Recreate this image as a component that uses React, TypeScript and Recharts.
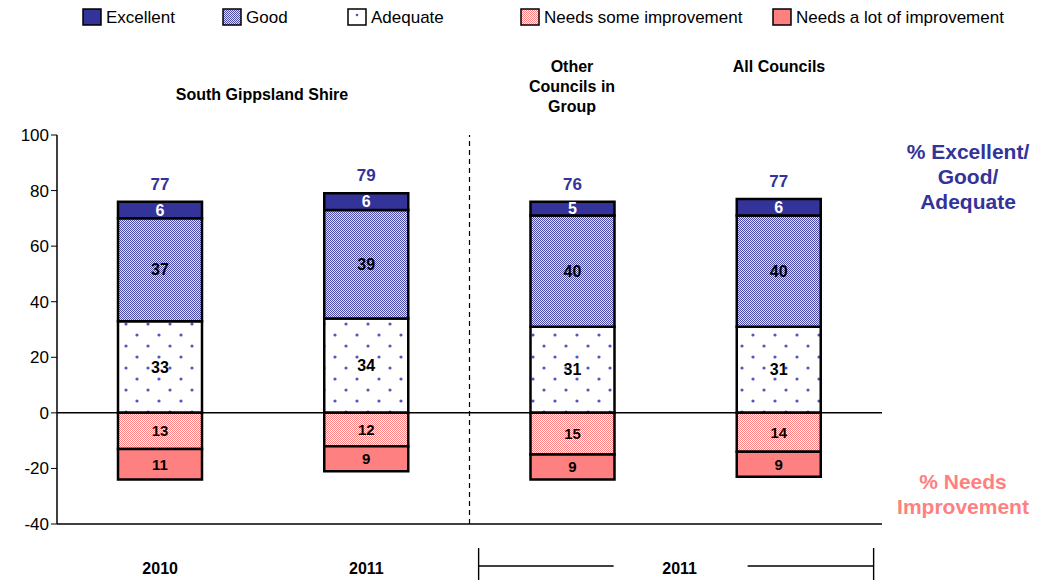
import React from 'react';
import {
  BarChart,
  Bar,
  XAxis,
  YAxis,
  LabelList,
  ReferenceLine,
} from 'recharts';

const categories = ['2010', '2011 ', 'Other Councils in Group', 'All Councils'];
const excellent = [6, 6, 5, 6];
const good = [37, 39, 40, 40];
const adequate = [33, 34, 31, 31];
const needsSome = [13, 12, 15, 14];
const needsLot = [11, 9, 9, 9];
const totals = [77, 79, 76, 77];
const yTicks = [-40, -20, 0, 20, 40, 60, 80, 100];
const bottomLabels = ['2010', '2011', '2011', ''];

const data = categories.map((c, i) => ({
  cat: c,
  excellent: excellent[i],
  good: good[i],
  adequate: adequate[i],
  needsSome: -needsSome[i],
  needsLot: -needsLot[i],
  total: totals[i],
}));

const FONT = '"Liberation Sans", Arial, sans-serif';
const BLUE = '#333399';
const PINK = '#ff8080';

function Patterns({ prefix }: { prefix: string }) {
  return (
    <defs>
      <pattern id={`${prefix}good`} width="2" height="2" patternUnits="userSpaceOnUse">
        <rect width="2" height="2" fill="#e2e2f8" />
        <rect width="1" height="1" fill="#4a4aaa" />
        <rect x="1" y="1" width="1" height="1" fill="#4a4aaa" />
      </pattern>
      <pattern id={`${prefix}adeq`} width="22" height="22" patternUnits="userSpaceOnUse">
        <rect width="22" height="22" fill="#fff" />
        <circle cx="5" cy="5" r="1.6" fill="#5555bb" />
        <circle cx="16" cy="16" r="1.6" fill="#5555bb" />
      </pattern>
      <pattern id={`${prefix}some`} width="2" height="2" patternUnits="userSpaceOnUse">
        <rect width="2" height="2" fill="#fff" />
        <rect width="1" height="1" fill={PINK} />
        <rect x="1" y="1" width="1" height="1" fill={PINK} />
      </pattern>
    </defs>
  );
}

const legendItems = [
  { name: 'Excellent', fill: BLUE, x: 83 },
  { name: 'Good', fill: 'url(#lg-good)', x: 223 },
  { name: 'Adequate', fill: '#fff', x: 348, dot: true },
  { name: 'Needs some improvement', fill: 'url(#lg-some)', x: 521 },
  { name: 'Needs a lot of improvement', fill: PINK, x: 773 },
];

function BottomTick(props: any) {
  const { x, y, index } = props;
  const label = bottomLabels[index];
  if (index === 2) {
    return (
      <g>
        <line x1={x - 94} x2={x + 41} y1={y + 34} y2={y + 34} stroke="#000" strokeWidth={1.4} />
        <line x1={x + 175} x2={x + 301} y1={y + 34} y2={y + 34} stroke="#000" strokeWidth={1.4} />
        <line x1={x - 94} x2={x - 94} y1={y + 16} y2={y + 54} stroke="#000" strokeWidth={1.4} />
        <line x1={x + 301} x2={x + 301} y1={y + 16} y2={y + 54} stroke="#000" strokeWidth={1.4} />
        <text x={x + 107} y={y + 42} textAnchor="middle" fontFamily={FONT} fontWeight="bold" fontSize={16} fill="#000">
          {label}
        </text>
      </g>
    );
  }
  if (!label) return null;
  return (
    <text x={x} y={y + 42} textAnchor="middle" fontFamily={FONT} fontWeight="bold" fontSize={16} fill="#000">
      {label}
    </text>
  );
}

const absLabel = (v: any) => Math.abs(Number(v));

const labelStyle = { fontWeight: 'bold', fontSize: 16, fontFamily: FONT } as const;

export default function App() {
  return (
    <div style={{ position: 'absolute', left: 0, top: 0, width: 1037, height: 580, fontFamily: FONT }}>
      <BarChart
        width={1037}
        height={580}
        data={data}
        stackOffset="sign"
        barSize={84}
        margin={{ top: 135, right: 155, bottom: 0, left: 0 }}
      >
        <Patterns prefix="c-" />
        <XAxis
          dataKey="cat"
          height={56}
          axisLine={{ stroke: '#000', strokeWidth: 1.5 }}
          tickLine={false}
          tick={<BottomTick />}
          interval={0}
        />
        <XAxis xAxisId="top" dataKey="cat" orientation="top" height={0} tick={false} tickLine={false} axisLine={{ stroke: '#000', strokeWidth: 1.5 }} />
        <YAxis
          domain={[-40, 100]}
          ticks={yTicks}
          width={57}
          axisLine={{ stroke: '#000', strokeWidth: 1.5 }}
          tickLine={{ stroke: '#000' }}
          tickSize={6}
          tick={{ fontSize: 17, fill: '#000', fontFamily: FONT }}
        />
        <YAxis yAxisId="right" orientation="right" width={0} domain={[-40, 100]} tick={false} tickLine={false} axisLine={{ stroke: '#000', strokeWidth: 1.5 }} />
        <ReferenceLine
          x="Other Councils in Group"
          position="start"
          stroke="#000"
          strokeDasharray="5 4"
          strokeWidth={1.2}
        />
        <Bar dataKey="adequate" stackId="s" fill="url(#c-adeq)" stroke="#000" strokeWidth={2.5} isAnimationActive={false}>
          <LabelList dataKey="adequate" position="center" fill="#000" {...labelStyle} />
        </Bar>
        <Bar dataKey="good" stackId="s" fill="url(#c-good)" stroke="#000" strokeWidth={2.5} isAnimationActive={false}>
          <LabelList dataKey="good" position="center" fill="#000" {...labelStyle} />
        </Bar>
        <Bar dataKey="excellent" stackId="s" fill={BLUE} stroke="#000" strokeWidth={2.5} isAnimationActive={false}>
          <LabelList dataKey="excellent" position="center" fill="#fff" {...labelStyle} />
          <LabelList dataKey="total" position="top" offset={12} fill={BLUE} fontWeight="bold" fontSize={17} fontFamily={FONT} />
        </Bar>
        <Bar dataKey="needsSome" stackId="s" fill="url(#c-some)" stroke="#000" strokeWidth={2.5} isAnimationActive={false}>
          <LabelList dataKey="needsSome" position="center" formatter={absLabel} fill="#000" {...labelStyle} fontSize={15} />
        </Bar>
        <Bar dataKey="needsLot" stackId="s" fill={PINK} stroke="#000" strokeWidth={2.5} isAnimationActive={false}>
          <LabelList dataKey="needsLot" position="center" formatter={absLabel} fill="#000" {...labelStyle} fontSize={15} />
        </Bar>
        <ReferenceLine y={0} stroke="#000" strokeWidth={1.5} />
      </BarChart>

      {/* legend */}
      <svg width={1037} height={36} style={{ position: 'absolute', left: 0, top: 0 }}>
        <Patterns prefix="lg-" />
        {legendItems.map((it) => (
          <g key={it.name}>
            <rect x={it.x} y={9} width={18} height={16} fill={it.fill} stroke="#000" strokeWidth={1.5} />
            {it.dot && <circle cx={it.x + 9} cy={15} r={1.3} fill="#5555bb" />}
            <text x={it.x + 23} y={23} fontFamily={FONT} fontSize={17} fill="#000">
              {it.name}
            </text>
          </g>
        ))}
      </svg>

      {/* group headers */}
      <div style={{ position: 'absolute', left: 152, top: 86, width: 220, textAlign: 'center', fontWeight: 'bold', fontSize: 16 }}>
        South Gippsland Shire
      </div>
      <div style={{ position: 'absolute', left: 507, top: 57, width: 130, textAlign: 'center', fontWeight: 'bold', fontSize: 16, lineHeight: '20px' }}>
        Other
        <br />
        Councils in
        <br />
        Group
      </div>
      <div style={{ position: 'absolute', left: 714, top: 57, width: 130, textAlign: 'center', fontWeight: 'bold', fontSize: 16, lineHeight: '20px' }}>
        All Councils
      </div>

      {/* side annotations */}
      <div style={{ position: 'absolute', left: 888, top: 139, width: 160, textAlign: 'center', fontWeight: 'bold', fontSize: 21, lineHeight: '25px', color: BLUE }}>
        % Excellent/
        <br />
        Good/
        <br />
        Adequate
      </div>
      <div style={{ position: 'absolute', left: 883, top: 469, width: 160, textAlign: 'center', fontWeight: 'bold', fontSize: 21, lineHeight: '25px', color: PINK }}>
        % Needs
        <br />
        Improvement
      </div>
    </div>
  );
}
